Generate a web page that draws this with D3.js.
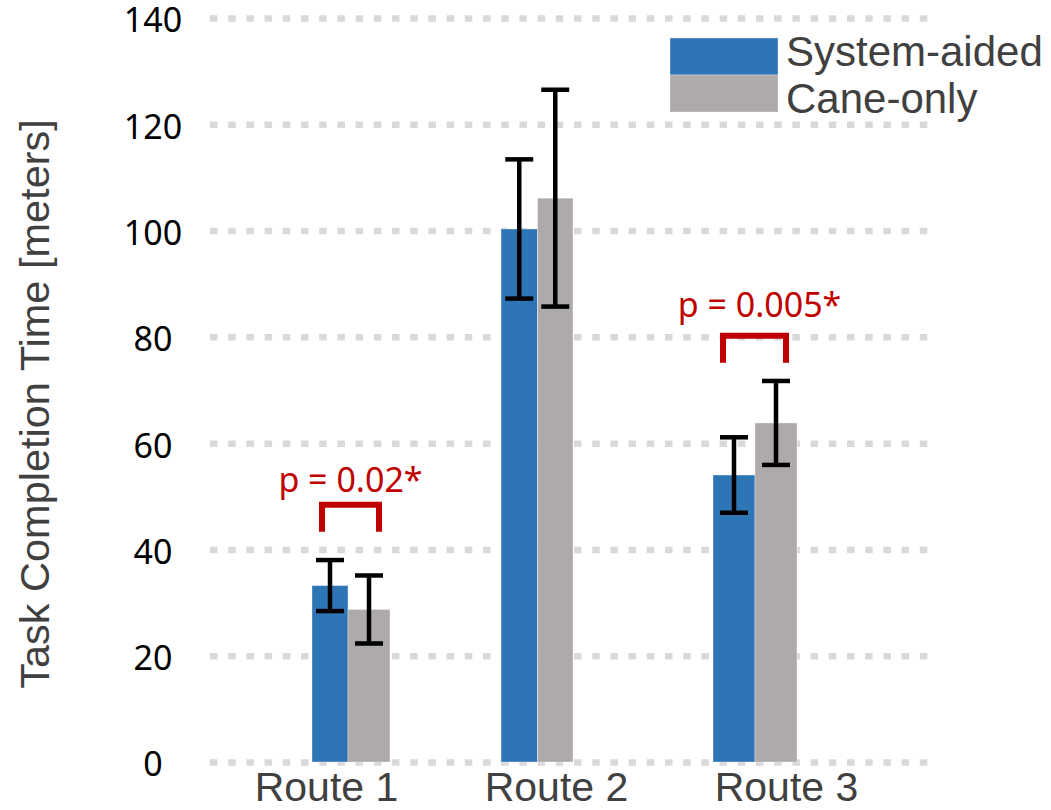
<!DOCTYPE html>
<html>
<head>
<meta charset="utf-8">
<script src="https://cdn.jsdelivr.net/npm/d3@7"></script>
<style>
  html, body { margin: 0; padding: 0; background: #fff; }
  svg { display: block; }
</style>
</head>
<body>
<svg id="chart" width="1051" height="810"></svg>
<script>
// ---- data ----
const routes = ["Route 1", "Route 2", "Route 3"];
const seriesNames = ["System-aided", "Cane-only"];
const systemAided = [33.2, 100.3, 54.0];
const systemAidedErr = [4.8, 13.1, 7.1];
const caneOnly = [28.7, 106.1, 63.8];
const caneOnlyErr = [6.4, 20.4, 7.9];
const yTicks = [0, 20, 40, 60, 80, 100, 120, 140];
const sigRoutes = ["Route 1", "Route 3"];
const sigLabels = ["p = 0.02*", "p = 0.005*"];
const sigBracketLevel = [48.4, 80.2];
const sigTextLevel = [50.9, 83.8];

// ---- layout / style ----
const colors = ["#2e75b6", "#aeaaaa"];
const svg = d3.select("#chart");
const y = d3.scaleLinear().domain([0, 140]).range([762, 18]);
const x = d3.scalePoint().domain(routes).range([326, 786]);
// per-route bar placement (offset of group start from label centre, widths)
const groupShift = [-14, -55, -73];
const barWidths = [[36, 42], [36.5, 35.5], [42, 42]];
const gridX0 = 210, gridX1 = 929;

// gridlines
const grid = svg.append("g").attr("transform", `translate(${gridX0},0)`)
  .call(d3.axisRight(y).tickValues(yTicks).tickSize(gridX1 - gridX0).tickFormat(""));
grid.select(".domain").remove();
grid.selectAll("line")
  .attr("stroke", "#d9d9d9").attr("stroke-width", 6.5)
  .attr("stroke-dasharray", "7.5 10.7");

// y tick labels
const yAx = svg.append("g").attr("transform", "translate(153,3)")
  .call(d3.axisLeft(y).tickValues(yTicks).tickSize(0).tickPadding(0));
yAx.select(".domain").remove();
yAx.selectAll("text")
  .attr("text-anchor", "middle").attr("x", 0)
  .attr("font-family", "'Noto Sans', sans-serif").attr("font-size", 34)
  .attr("fill", "#000");

// y axis title
svg.append("text")
  .attr("transform", "translate(49,404) rotate(-90)")
  .attr("text-anchor", "middle")
  .attr("font-family", "'Liberation Sans', Arial, sans-serif")
  .attr("font-size", 41.5).attr("fill", "#404040")
  .text("Task Completion Time [meters]");

// x axis labels
const xAx = svg.append("g").attr("transform", "translate(0,762)")
  .call(d3.axisBottom(x).tickSize(0).tickPadding(0));
xAx.select(".domain").remove();
xAx.selectAll("text")
  .attr("dy", null).attr("y", 39)
  .attr("font-family", "'Liberation Sans', Arial, sans-serif")
  .attr("font-size", 41).attr("fill", "#404040");

// bars
const series = [
  { name: seriesNames[0], values: systemAided, errs: systemAidedErr },
  { name: seriesNames[1], values: caneOnly, errs: caneOnlyErr }
];
const bars = [];
routes.forEach((r, i) => {
  let x0 = x(r) + groupShift[i];
  series.forEach((s, j) => {
    const w = barWidths[i][j];
    bars.push({ route: r, s: j, x0: x0, w: w, v: s.values[i], e: s.errs[i] });
    x0 += w;
  });
});

svg.append("g").selectAll("rect").data(bars).join("rect")
  .attr("x", d => d.x0).attr("width", d => d.w)
  .attr("y", d => y(d.v)).attr("height", d => y(0) - y(d.v))
  .attr("fill", d => colors[d.s])
  .attr("stroke", "rgba(255,255,255,0.35)").attr("stroke-width", 1);

// error bars
const capW = 28;
const eg = svg.append("g").attr("stroke", "#000").attr("stroke-width", 4.5);
bars.forEach(d => {
  const cx = d.x0 + d.w / 2;
  eg.append("line").attr("x1", cx).attr("x2", cx).attr("y1", y(d.v + d.e)).attr("y2", y(d.v - d.e));
  eg.append("line").attr("x1", cx - capW / 2).attr("x2", cx + capW / 2).attr("y1", y(d.v + d.e)).attr("y2", y(d.v + d.e));
  eg.append("line").attr("x1", cx - capW / 2).attr("x2", cx + capW / 2).attr("y1", y(d.v - d.e)).attr("y2", y(d.v - d.e));
});

// significance brackets
const red = "#c00000";
sigRoutes.forEach((r, k) => {
  const rb = bars.filter(b => b.route === r);
  const left = rb[0].x0 + 10;
  const right = rb[rb.length - 1].x0 + rb[rb.length - 1].w - 11;
  const top = y(sigBracketLevel[k]);
  const bot = top + 27;
  svg.append("path")
    .attr("d", `M${left},${bot} V${top} H${right} V${bot}`)
    .attr("fill", "none").attr("stroke", red).attr("stroke-width", 6)
    .attr("stroke-linejoin", "miter");
  svg.append("text")
    .attr("x", (left + right) / 2 + (k === 1 ? 5 : 0)).attr("y", y(sigTextLevel[k]))
    .attr("text-anchor", "middle")
    .attr("font-family", "'Noto Sans', sans-serif").attr("font-size", 34)
    .attr("fill", red).text(sigLabels[k]);
});

// legend
const lg = svg.append("g");
seriesNames.forEach((n, i) => {
  lg.append("rect").attr("x", 670).attr("y", 38 + i * 37).attr("width", 108).attr("height", 37)
    .attr("fill", colors[i]).attr("stroke", "rgba(255,255,255,0.35)").attr("stroke-width", 1);
  lg.append("text").attr("x", 786).attr("y", 66 + i * 47)
    .attr("font-family", "'Liberation Sans', Arial, sans-serif")
    .attr("font-size", 42).attr("fill", "#404040").text(n);
});
</script>
</body>
</html>
